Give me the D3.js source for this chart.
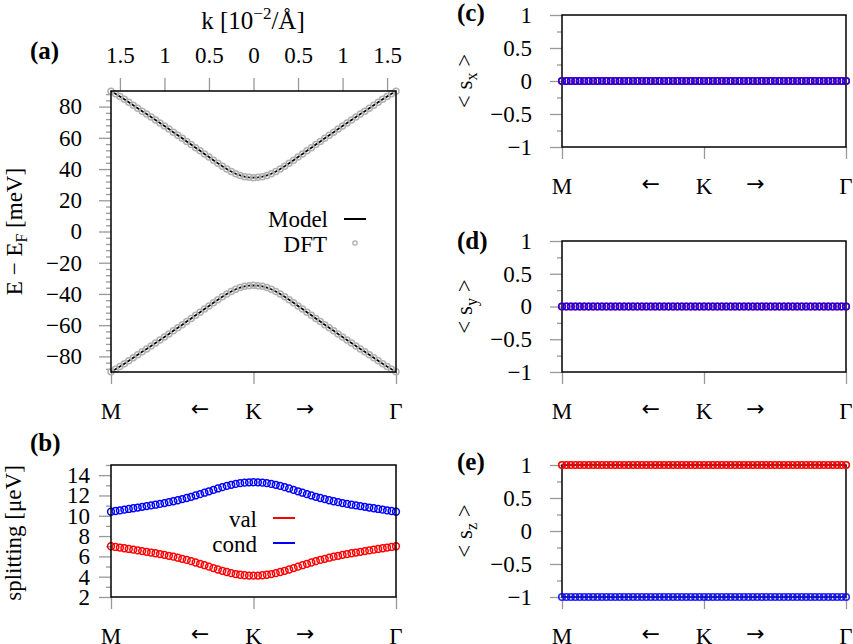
<!DOCTYPE html>
<meta charset="utf-8">
<style>
  body { margin: 0; background: white; }
  svg { font-family: "Liberation Serif", "Times New Roman", Times, serif; font-size: 23px; }
  .frame { fill: none; stroke: black; stroke-width: 1.5; }
  .tick line { stroke: #999; stroke-width: 1.3; }
  .domain { display: none; }
  .arrow { font-family: "DejaVu Sans", sans-serif; font-size: 22px; }
</style>
<body>
</body>
<script src="https://cdn.jsdelivr.net/npm/d3@7"></script>
<script>
  // k grid along M <- K -> Gamma, in 10^-2 / A
  const kGrid = [-1.6,-1.55,-1.5,-1.45,-1.4,-1.35,-1.3,-1.25,-1.2,-1.15,-1.1,-1.05,-1,-0.95,-0.9,-0.85,-0.8,-0.75,-0.7,-0.65,-0.6,-0.55,-0.5,-0.45,-0.4,-0.35,-0.3,-0.25,-0.2,-0.15,-0.1,-0.05,0,0.05,0.1,0.15,0.2,0.25,0.3,0.35,0.4,0.45,0.5,0.55,0.6,0.65,0.7,0.75,0.8,0.85,0.9,0.95,1,1.05,1.1,1.15,1.2,1.25,1.3,1.35,1.4,1.45,1.5,1.55,1.6];

  // (a) bands, meV
  const bandCond = [89.8,88.2,86.5,84.7,82.8,80.9,79.0,77.1,75.2,73.3,71.4,69.5,67.6,65.6,63.6,61.7,59.7,57.7,55.7,53.7,51.7,49.7,47.7,45.7,43.7,41.8,40.0,38.4,37.0,35.9,35.1,34.7,34.5,34.7,35.1,35.9,37.0,38.4,40.0,41.8,43.7,45.7,47.7,49.7,51.7,53.7,55.7,57.7,59.7,61.7,63.6,65.6,67.6,69.5,71.4,73.3,75.2,77.1,79.0,80.9,82.8,84.7,86.5,88.2,89.8];
  const bandVal = [-89.8,-88.2,-86.5,-84.7,-82.8,-80.9,-79.0,-77.1,-75.2,-73.3,-71.4,-69.5,-67.6,-65.6,-63.6,-61.7,-59.7,-57.7,-55.7,-53.7,-51.7,-49.7,-47.7,-45.7,-43.7,-41.8,-40.0,-38.4,-37.0,-35.9,-35.1,-34.7,-34.5,-34.7,-35.1,-35.9,-37.0,-38.4,-40.0,-41.8,-43.7,-45.7,-47.7,-49.7,-51.7,-53.7,-55.7,-57.7,-59.7,-61.7,-63.6,-65.6,-67.6,-69.5,-71.4,-73.3,-75.2,-77.1,-79.0,-80.9,-82.8,-84.7,-86.5,-88.2,-89.8];

  // (b) spin splitting, ueV
  const splitVal = [7.00,6.93,6.87,6.80,6.73,6.66,6.59,6.52,6.45,6.38,6.31,6.23,6.15,6.06,5.97,5.87,5.76,5.65,5.53,5.40,5.27,5.13,4.99,4.85,4.71,4.58,4.46,4.35,4.26,4.19,4.14,4.11,4.10,4.11,4.14,4.19,4.26,4.35,4.46,4.58,4.71,4.85,4.99,5.13,5.27,5.40,5.53,5.65,5.76,5.87,5.97,6.06,6.15,6.23,6.31,6.38,6.45,6.52,6.59,6.66,6.73,6.80,6.87,6.93,7.00];
  const splitCond = [10.40,10.47,10.53,10.60,10.67,10.74,10.81,10.88,10.95,11.02,11.09,11.17,11.25,11.34,11.43,11.53,11.64,11.75,11.87,12.00,12.13,12.27,12.41,12.55,12.69,12.82,12.94,13.05,13.14,13.21,13.26,13.29,13.30,13.29,13.26,13.21,13.14,13.05,12.94,12.82,12.69,12.55,12.41,12.27,12.13,12.00,11.87,11.75,11.64,11.53,11.43,11.34,11.25,11.17,11.09,11.02,10.95,10.88,10.81,10.74,10.67,10.60,10.53,10.47,10.40];

  // (c)-(e) spin expectation values
  const sxVal  = [0,0,0,0,0,0,0,0,0,0,0,0,0,0,0,0,0,0,0,0,0,0,0,0,0,0,0,0,0,0,0,0,0,0,0,0,0,0,0,0,0,0,0,0,0,0,0,0,0,0,0,0,0,0,0,0,0,0,0,0,0,0,0,0,0];
  const sxCond = [0,0,0,0,0,0,0,0,0,0,0,0,0,0,0,0,0,0,0,0,0,0,0,0,0,0,0,0,0,0,0,0,0,0,0,0,0,0,0,0,0,0,0,0,0,0,0,0,0,0,0,0,0,0,0,0,0,0,0,0,0,0,0,0,0];
  const syVal  = [0,0,0,0,0,0,0,0,0,0,0,0,0,0,0,0,0,0,0,0,0,0,0,0,0,0,0,0,0,0,0,0,0,0,0,0,0,0,0,0,0,0,0,0,0,0,0,0,0,0,0,0,0,0,0,0,0,0,0,0,0,0,0,0,0];
  const syCond = [0,0,0,0,0,0,0,0,0,0,0,0,0,0,0,0,0,0,0,0,0,0,0,0,0,0,0,0,0,0,0,0,0,0,0,0,0,0,0,0,0,0,0,0,0,0,0,0,0,0,0,0,0,0,0,0,0,0,0,0,0,0,0,0,0];
  const szVal  = [1,1,1,1,1,1,1,1,1,1,1,1,1,1,1,1,1,1,1,1,1,1,1,1,1,1,1,1,1,1,1,1,1,1,1,1,1,1,1,1,1,1,1,1,1,1,1,1,1,1,1,1,1,1,1,1,1,1,1,1,1,1,1,1,1];
  const szCond = [-1,-1,-1,-1,-1,-1,-1,-1,-1,-1,-1,-1,-1,-1,-1,-1,-1,-1,-1,-1,-1,-1,-1,-1,-1,-1,-1,-1,-1,-1,-1,-1,-1,-1,-1,-1,-1,-1,-1,-1,-1,-1,-1,-1,-1,-1,-1,-1,-1,-1,-1,-1,-1,-1,-1,-1,-1,-1,-1,-1,-1,-1,-1,-1,-1];

  // axis labels
  const kTicks = [-1.5, -1, -0.5, 0, 0.5, 1, 1.5];
  const pathNames = ['M', '←', 'K', '→', 'Γ'];
  const pathPos = [-1.6, -0.6, 0, 0.58, 1.6];
  const pathTicks = [-1.6, 0, 1.6];
  const eTicks = [-80, -60, -40, -20, 0, 20, 40, 60, 80];
  const splitTicks = [2, 4, 6, 8, 10, 12, 14];
  const spinTicks = [-1, -0.5, 0, 0.5, 1];

  const W = 853, H = 644;
  const svg = d3.select('body').append('svg').attr('width', W).attr('height', H);

  const A = {l: 111, r: 396, t: 91, b: 372};
  const B = {l: 111, r: 396, t: 465, b: 597};
  const C = {l: 562, r: 846, t: 15, b: 147};
  const D = {l: 562, r: 846, t: 241, b: 372};
  const E = {l: 562, r: 846, t: 465, b: 597};

  const red = '#ff0000', blue = '#0000ff';
  const minus = v => (v < 0 ? '−' : '') + Math.abs(v);

  const clean = g => g.attr('font-family', null).attr('font-size', null);

  function frame(p) {
    svg.append('rect').attr('class', 'frame')
      .attr('x', p.l).attr('y', p.t)
      .attr('width', p.r - p.l).attr('height', p.b - p.t);
  }

  function leftAxis(p, y, major, minor, pad) {
    svg.append('g').attr('transform', `translate(${p.l},0)`)
      .call(d3.axisLeft(y).tickValues(minor).tickSize(5).tickFormat(''))
      .call(g => g.selectAll('text').remove());
    svg.append('g').attr('transform', `translate(${p.l},0)`)
      .call(d3.axisLeft(y).tickValues(major).tickSize(12).tickPadding(pad).tickFormat(minus))
      .call(clean);
  }

  function pathAxis(p, x) {
    svg.append('g').attr('transform', `translate(0,${p.b})`)
      .call(d3.axisBottom(x).tickValues(pathTicks).tickSize(12).tickFormat(''))
      .call(g => g.selectAll('text').remove());
    svg.append('g').selectAll('text')
      .data(pathNames)
      .join('text')
      .attr('class', (d, i) => i % 2 ? 'arrow' : null)
      .attr('x', (d, i) => x(pathPos[i]))
      .attr('y', (d, i) => p.b + (i % 2 ? 44 : 47))
      .attr('text-anchor', 'middle')
      .text(d => d);
  }

  function panelLabel(txt, x, y) {
    svg.append('text').attr('x', x).attr('y', y)
      .attr('font-weight', 'bold').attr('font-size', 25)
      .text(txt);
  }

  function dots(x, y, vals, color, r, sw, op) {
    svg.append('g').selectAll('circle')
      .data(vals)
      .join('circle')
      .attr('cx', (d, i) => x(kGrid[i]))
      .attr('cy', d => y(d))
      .attr('r', r)
      .attr('fill', 'none')
      .attr('stroke', color)
      .attr('stroke-width', sw)
      .attr('stroke-opacity', op);
  }

  // ---------- (a) ----------
  const xA = d3.scaleLinear().domain([-1.6, 1.6]).range([A.l, A.r]);
  const yA = d3.scaleLinear().domain([-90, 90]).range([A.b, A.t]);
  leftAxis(A, yA, eTicks, d3.range(-88, 89, 4).filter(v => v % 20 !== 0), 17);
  svg.append('g').attr('transform', `translate(0,${A.t})`)
    .call(d3.axisTop(xA).tickValues(kTicks).tickSize(13).tickPadding(15).tickFormat(d => Math.abs(d)))
    .call(clean);
  pathAxis(A, xA);

  const lineA = d3.line().x((d, i) => xA(kGrid[i])).y(d => yA(d));
  [bandCond, bandVal].forEach(band => {
    svg.append('path').datum(band)
      .attr('d', lineA)
      .attr('fill', 'none').attr('stroke', 'black').attr('stroke-width', 1.8);
    dots(xA, yA, band, '#b0b0b0', 3, 1.5, 1);
  });
  frame(A);

  // top title
  const title = svg.append('text').attr('x', 253).attr('y', 29)
    .attr('text-anchor', 'middle').attr('font-size', 25);
  title.append('tspan').text('k [10');
  title.append('tspan').attr('font-size', 17).attr('dy', -10).text('−2');
  title.append('tspan').attr('dy', 10).text('/Å]');

  // y label (a)
  const ylA = svg.append('text').attr('text-anchor', 'middle')
    .attr('transform', `translate(22,${(A.t + A.b) / 2}) rotate(-90)`);
  ylA.append('tspan').text('E − E');
  ylA.append('tspan').attr('font-size', 16).attr('dy', 5).text('F');
  ylA.append('tspan').attr('dy', -5).text(' [meV]');

  // legend (a)
  svg.append('text').attr('x', 328).attr('y', 227).attr('text-anchor', 'end').text('Model');
  svg.append('line').attr('x1', 344).attr('x2', 366).attr('y1', 219).attr('y2', 219)
    .attr('stroke', 'black').attr('stroke-width', 2);
  svg.append('text').attr('x', 327).attr('y', 252).attr('text-anchor', 'end').text('DFT');
  svg.append('circle').attr('cx', 355).attr('cy', 243).attr('r', 2.2)
    .attr('fill', 'none').attr('stroke', '#aaa').attr('stroke-width', 1.2);

  panelLabel('(a)', 30, 59);

  // ---------- (b) ----------
  const xB = d3.scaleLinear().domain([-1.6, 1.6]).range([B.l, B.r]);
  const yB = d3.scaleLinear().domain([2, 15]).range([B.b, B.t]);
  leftAxis(B, yB, splitTicks, [3, 5, 7, 9, 11, 13, 15], 9);
  pathAxis(B, xB);
  dots(xB, yB, splitVal, red, 3.4, 1.5, 1);
  dots(xB, yB, splitCond, blue, 3.4, 1.5, 1);
  frame(B);

  svg.append('text').attr('text-anchor', 'middle')
    .attr('transform', `translate(21,533) rotate(-90)`)
    .text('splitting [μeV]');

  svg.append('text').attr('x', 257).attr('y', 527).attr('text-anchor', 'end').text('val');
  svg.append('line').attr('x1', 273).attr('x2', 295).attr('y1', 518).attr('y2', 518)
    .attr('stroke', red).attr('stroke-width', 2);
  svg.append('text').attr('x', 257).attr('y', 552).attr('text-anchor', 'end').text('cond');
  svg.append('line').attr('x1', 273).attr('x2', 295).attr('y1', 543).attr('y2', 543)
    .attr('stroke', blue).attr('stroke-width', 2);

  panelLabel('(b)', 30, 451);

  // ---------- (c)-(e) ----------
  const spinPanels = [
    {p: C, val: sxVal, cond: sxCond, sub: 'x', label: '(c)', ly: 21},
    {p: D, val: syVal, cond: syCond, sub: 'y', label: '(d)', ly: 249},
    {p: E, val: szVal, cond: szCond, sub: 'z', label: '(e)', ly: 470},
  ];

  spinPanels.forEach(s => {
    const p = s.p;
    const x = d3.scaleLinear().domain([-1.6, 1.6]).range([p.l, p.r]);
    const y = d3.scaleLinear().domain([-1, 1]).range([p.b, p.t]);
    leftAxis(p, y, spinTicks, [-0.75, -0.25, 0.25, 0.75], 18);
    pathAxis(p, x);
    frame(p);
    dots(x, y, s.val, red, 3.3, 1.6, 1);
    dots(x, y, s.cond, blue, 3.3, 1.6, 0.85);

    const yl = svg.append('text').attr('text-anchor', 'middle')
      .attr('transform', `translate(472,${(p.t + p.b) / 2}) rotate(-90)`);
    yl.append('tspan').text('< s');
    yl.append('tspan').attr('font-size', 16).attr('dy', 5).text(s.sub);
    yl.append('tspan').attr('dy', -5).text(' >');

    panelLabel(s.label, 457, s.ly);
  });
</script>
